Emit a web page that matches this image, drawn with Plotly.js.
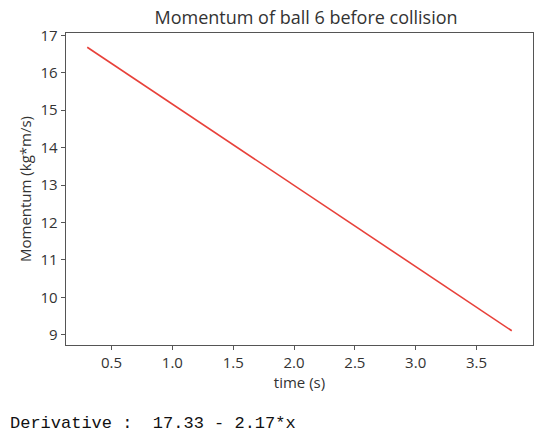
<!DOCTYPE html>
<html>
<head>
<meta charset="utf-8">
<script src="https://cdn.plot.ly/plotly-3.0.1.min.js"></script>
<style>html,body{margin:0;padding:0;background:#fff;}#chart{width:536px;height:433px;}</style>
</head>
<body>
<div id="chart"></div>
<script>
const timeValues = [0.30, 3.79];
const momentumValues = [16.68, 9.11];
const xTicks = [0.5, 1.0, 1.5, 2.0, 2.5, 3.0, 3.5];
const xTickLabels = ["0.5", "1.0", "1.5", "2.0", "2.5", "3.0", "3.5"];
const yTicks = [9, 10, 11, 12, 13, 14, 15, 16, 17];
const titleText = "Momentum of ball 6 before collision";
const derivativeText = "Derivative :  17.33 - 2.17*x";

const FONT = 'Open Sans, sans-serif';
const axisCommon = {
  showgrid: false, zeroline: false, showline: true, mirror: true,
  linecolor: '#555', linewidth: 1.3, ticks: 'outside', ticklen: 4, tickwidth: 1,
  tickcolor: '#555', tickfont: {family: FONT, size: 15, color: '#333'}
};

const trace = {
  x: timeValues, y: momentumValues, type: 'scatter', mode: 'lines',
  line: {color: '#e8413a', width: 1.6}, hoverinfo: 'skip'
};

const layout = {
  width: 536, height: 433,
  margin: {l: 66, r: 3, t: 33, b: 88},
  paper_bgcolor: '#fff', plot_bgcolor: '#fff',
  showlegend: false,
  title: {text: titleText, xref: 'paper', x: 0.514, xanchor: 'center', y: 0.958, yanchor: 'middle',
          font: {family: FONT, size: 18, color: '#333'}},
  xaxis: Object.assign({}, axisCommon, {
    range: [0.1255, 3.9645], tickvals: xTicks, ticktext: xTickLabels,
    title: {text: 'time (s)', standoff: 1, font: {family: FONT, size: 15, color: '#333'}}
  }),
  yaxis: Object.assign({}, axisCommon, {
    range: [8.73, 17.06], tickvals: yTicks,
    title: {text: 'Momentum (kg*m/s)', standoff: 5, font: {family: FONT, size: 15, color: '#333'}}
  }),
  annotations: [{
    text: derivativeText, xref: 'paper', yref: 'paper', x: -0.124, y: -0.25,
    xanchor: 'left', yanchor: 'middle', showarrow: false,
    font: {family: 'Liberation Mono, monospace', size: 17, color: '#111'}
  }]
};

Plotly.newPlot('chart', [trace], layout, {displayModeBar: false, staticPlot: true});
</script>
</body>
</html>
